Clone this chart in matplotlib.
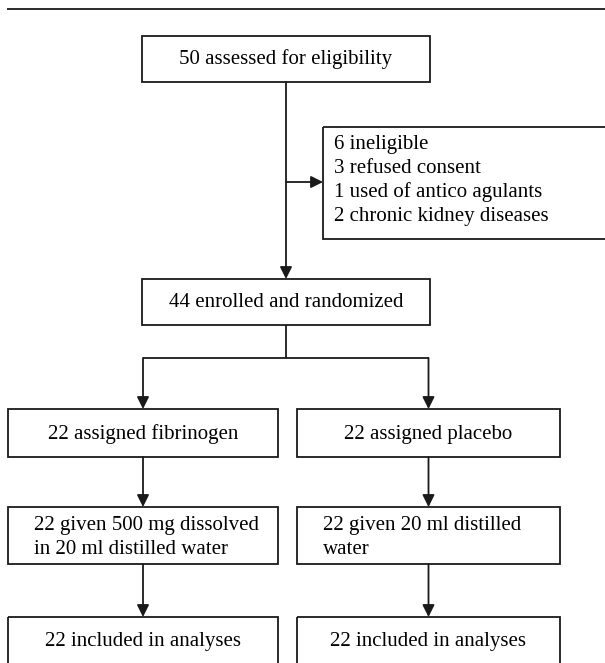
import matplotlib.pyplot as plt
from matplotlib.patches import Rectangle

# box texts
top_label = "50 assessed for eligibility"
excluded_lines = ["6 ineligible", "3 refused consent",
                  "1 used of antico agulants", "2 chronic kidney diseases"]
enrolled_label = "44 enrolled and randomized"
assigned_labels = ["22 assigned fibrinogen", "22 assigned placebo"]
given_lines = [["22 given 500 mg dissolved", "in 20 ml distilled water"],
               ["22 given 20 ml distilled", "water"]]
analysed_labels = ["22 included in analyses", "22 included in analyses"]

W, H = 605, 663
fig = plt.figure(figsize=(W / 100, H / 100), dpi=100)
ax = fig.add_axes([0, 0, 1, 1])
ax.set_xlim(0, W)
ax.set_ylim(H, 0)
ax.axis('off')

plt.rcParams['font.family'] = ['Liberation Serif', 'DejaVu Serif']
fs = 15
ec = '#1a1a1a'
lw = 1.3


def box(x0, x1, y0, y1):
    ax.add_patch(Rectangle((x0, y0), x1 - x0, y1 - y0, fill=False,
                           edgecolor=ec, linewidth=lw, clip_on=False))


def arrow(x0, y0, x1, y1):
    ax.annotate('', xy=(x1, y1), xytext=(x0, y0),
                arrowprops=dict(arrowstyle='-|>', color=ec, lw=lw,
                                mutation_scale=18, shrinkA=0, shrinkB=0))


def line(xs, ys):
    ax.plot(xs, ys, color=ec, lw=lw, solid_capstyle='butt')


def label(x, y, s, ha='center'):
    # y is the baseline
    ax.text(x, y, s, ha=ha, va='baseline', fontsize=fs)


# rule at top
line([7, W], [9, 9])

cx = 286
cols = [143, 428.5]
lefts = [[8, 278], [297, 560]]

box(142, 430, 36, 82)
label(cx, 64, top_label)
arrow(cx, 82, cx, 279)
arrow(cx, 182, 323, 182)

box(323, 615, 127, 239)
for i, t in enumerate(excluded_lines):
    label(334, 149 + 24 * i, t, ha='left')

box(142, 430, 279, 325)
label(cx, 307, enrolled_label)
line([cx, cx], [325, 358])
line([cols[0], cols[1]], [358, 358])

for k in range(2):
    x0, x1 = lefts[k]
    c = cols[k]
    arrow(c, 358, c, 409)
    box(x0, x1, 409, 457)
    label(c, 439, assigned_labels[k])
    arrow(c, 457, c, 507)
    box(x0, x1, 507, 564)
    for j, t in enumerate(given_lines[k]):
        label(x0 + 26, 530 + 24 * j, t, ha='left')
    arrow(c, 564, c, 617)
    box(x0, x1, 617, 680)
    label(c, 646, analysed_labels[k])

fig.savefig('out.png', dpi=100)
